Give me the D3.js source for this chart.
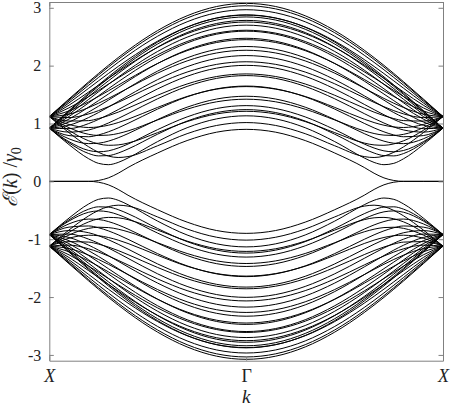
<!DOCTYPE html>
<html>
<head>
<meta charset="utf-8">
<script src="https://cdn.jsdelivr.net/npm/d3@7"></script>
<style>
    body { margin: 0; background: #fff; }
    svg text { font-family: "Liberation Serif", "DejaVu Serif", serif; }
</style>
</head>
<body>
<div id="chart"></div>
<script>
// k positions from Gamma (0) to X (1), in units of pi
var kFrac = [0, 0.15, 0.3, 0.45, 0.6, 0.65, 0.7, 0.75, 0.8, 0.9, 1.0];

// upper bands that meet near E = 1.12 at X
var bandsA = [
    [3.076, 3.022, 2.862, 2.606, 2.267, 2.139, 2.005, 1.865, 1.721, 1.424, 1.120],
    [3.035, 2.981, 2.823, 2.569, 2.234, 2.108, 1.976, 1.839, 1.699, 1.410, 1.120],
    [2.967, 2.914, 2.758, 2.508, 2.180, 2.057, 1.929, 1.796, 1.661, 1.387, 1.120],
    [2.873, 2.821, 2.668, 2.423, 2.105, 1.986, 1.863, 1.737, 1.609, 1.356, 1.120],
    [2.754, 2.703, 2.553, 2.316, 2.009, 1.896, 1.780, 1.662, 1.544, 1.316, 1.120],
    [2.612, 2.562, 2.417, 2.187, 1.894, 1.788, 1.680, 1.571, 1.465, 1.270, 1.120],
    [2.449, 2.400, 2.259, 2.038, 1.761, 1.662, 1.564, 1.467, 1.375, 1.218, 1.120],
    [2.266, 2.219, 2.082, 1.870, 1.611, 1.521, 1.433, 1.350, 1.275, 1.162, 1.120],
    [2.067, 2.022, 1.889, 1.686, 1.445, 1.365, 1.290, 1.222, 1.166, 1.102, 1.120],
    [1.857, 1.812, 1.683, 1.488, 1.266, 1.196, 1.135, 1.085, 1.050, 1.042, 1.120],
    [1.638, 1.594, 1.467, 1.278, 1.074, 1.016, 0.970, 0.940, 0.931, 0.983, 1.120],
    [1.420, 1.375, 1.247, 1.061, 0.872, 0.827, 0.799, 0.793, 0.813, 0.928, 1.120],
    [1.211, 1.165, 1.033, 0.842, 0.662, 0.630, 0.623, 0.647, 0.701, 0.881, 1.120],
    [1.016, 0.966, 0.824, 0.615, 0.428, 0.412, 0.437, 0.502, 0.597, 0.841, 1.120]
];

// upper bands that meet near E = 0.92 at X
var bandsB = [
    [2.878, 2.824, 2.664, 2.407, 2.068, 1.940, 1.806, 1.666, 1.522, 1.224, 0.920],
    [2.842, 2.788, 2.629, 2.374, 2.038, 1.912, 1.780, 1.642, 1.501, 1.210, 0.920],
    [2.782, 2.729, 2.572, 2.320, 1.990, 1.866, 1.736, 1.603, 1.466, 1.189, 0.920],
    [2.700, 2.647, 2.492, 2.245, 1.922, 1.801, 1.676, 1.548, 1.417, 1.159, 0.920],
    [2.596, 2.544, 2.392, 2.150, 1.836, 1.720, 1.600, 1.478, 1.356, 1.121, 0.920],
    [2.473, 2.422, 2.272, 2.036, 1.733, 1.622, 1.509, 1.395, 1.283, 1.076, 0.920],
    [2.331, 2.281, 2.135, 1.905, 1.613, 1.508, 1.403, 1.298, 1.198, 1.026, 0.920],
    [2.174, 2.125, 1.982, 1.758, 1.479, 1.381, 1.283, 1.189, 1.103, 0.970, 0.920],
    [2.005, 1.957, 1.816, 1.598, 1.331, 1.240, 1.151, 1.070, 0.999, 0.911, 0.920],
    [1.828, 1.780, 1.641, 1.427, 1.171, 1.087, 1.008, 0.940, 0.888, 0.851, 0.920],
    [1.647, 1.599, 1.461, 1.249, 1.002, 0.924, 0.856, 0.802, 0.771, 0.791, 0.920],
    [1.471, 1.423, 1.282, 1.068, 0.825, 0.753, 0.695, 0.659, 0.652, 0.735, 0.920],
    [1.309, 1.259, 1.114, 0.894, 0.645, 0.576, 0.527, 0.511, 0.534, 0.686, 0.920],
    [1.240, 1.189, 1.042, 0.815, 0.559, 0.489, 0.445, 0.440, 0.481, 0.665, 0.920],
    [1.133, 1.080, 0.927, 0.687, 0.404, 0.327, 0.288, 0.311, 0.391, 0.635, 0.920]
];

// edge state band, flat at zero near X
var edgeBand = [0.899, 0.850, 0.705, 0.490, 0.240, 0.140, 0.060, 0.015, 0, 0, 0];

var yTicks = [-3, -2, -1, 0, 1, 2, 3];
var kTicks = [-1, 0, 1];
var kTickLabels = ["X", "\u0393", "X"];

function init() {
    var w = 451;
    var h = 408;
    var left = 49.3, right = 443, top = 2, bottom = 360.7;
    var axisColor = "#808080";

    var xScale = d3.scaleLinear().domain([-1, 1]).range([left, right]);
    var yScale = d3.scaleLinear().domain([-3.1, 3.1]).range([bottom, top]);

    var svg = d3.select("#chart")
        .append("svg")
        .attr("width", w)
        .attr("height", h);

    // spectrum is symmetric in k and in E, one quadrant is stored
    function fullBand(vals, sign) {
        var pts = [];
        for (var i = kFrac.length - 1; i > 0; i--) pts.push([-kFrac[i], sign * vals[i]]);
        for (var j = 0; j < kFrac.length; j++) pts.push([kFrac[j], sign * vals[j]]);
        return pts;
    }

    var lines = [];
    bandsA.concat(bandsB, [edgeBand]).forEach(function (b) {
        lines.push(fullBand(b, 1));
        lines.push(fullBand(b, -1));
    });

    var line = d3.line()
        .x(function (d) { return xScale(d[0]); })
        .y(function (d) { return yScale(d[1]); })
        .curve(d3.curveMonotoneX);

    svg.append("g")
        .selectAll("path")
        .data(lines)
        .enter()
        .append("path")
        .attr("d", line)
        .attr("fill", "none")
        .attr("stroke", "#000")
        .attr("stroke-width", 1);

    // axes with inward ticks on all four sides
    var gLeft = svg.append("g")
        .attr("transform", "translate(" + left + ",0)")
        .call(d3.axisLeft(yScale).tickValues(yTicks).tickSizeInner(-4.5).tickSizeOuter(0)
            .tickPadding(8).tickFormat(function (d) { return String(d); }));
    var gRight = svg.append("g")
        .attr("transform", "translate(" + right + ",0)")
        .call(d3.axisRight(yScale).tickValues(yTicks).tickSizeInner(-4.5).tickSizeOuter(0).tickFormat(""));
    var gTop = svg.append("g")
        .attr("transform", "translate(0," + top + ")")
        .call(d3.axisTop(xScale).tickValues(kTicks).tickSizeInner(-4.5).tickSizeOuter(0).tickFormat(""));
    var gBottom = svg.append("g")
        .attr("transform", "translate(0," + bottom + ")")
        .call(d3.axisBottom(xScale).tickValues(kTicks).tickSizeInner(-4.5).tickSizeOuter(0)
            .tickPadding(9).tickFormat(function (d, i) { return kTickLabels[i]; }));

    [gLeft, gRight, gTop, gBottom].forEach(function (g) {
        g.attr("font-family", null);
        g.select(".domain").attr("stroke", axisColor).attr("stroke-width", 1);
        g.selectAll(".tick line").attr("stroke", axisColor);
        g.selectAll("text").attr("fill", "#222");
    });
    gLeft.selectAll("text").style("font-size", "16px");
    gBottom.selectAll("text")
        .style("font-size", "18px")
        .style("font-style", function (d, i) { return kTickLabels[i] === "X" ? "italic" : "normal"; });

    // axis titles
    svg.append("text")
        .attr("x", (left + right) / 2)
        .attr("y", 403)
        .attr("text-anchor", "middle")
        .style("font-style", "italic")
        .style("font-size", "19px")
        .attr("fill", "#222")
        .text("k");

    var yl = svg.append("text")
        .attr("transform", "translate(17,177) rotate(-90)")
        .attr("text-anchor", "middle")
        .style("font-size", "20px")
        .attr("fill", "#222");
    yl.append("tspan").style("font-style", "italic").text("\u2130");
    yl.append("tspan").text("(");
    yl.append("tspan").style("font-style", "italic").text("k");
    yl.append("tspan").text(") /");
    yl.append("tspan").style("font-style", "italic").text("\u03b3");
    yl.append("tspan").style("font-size", "14px").attr("dy", 4).text("0");
}

window.onload = init;
</script>
</body>
</html>
